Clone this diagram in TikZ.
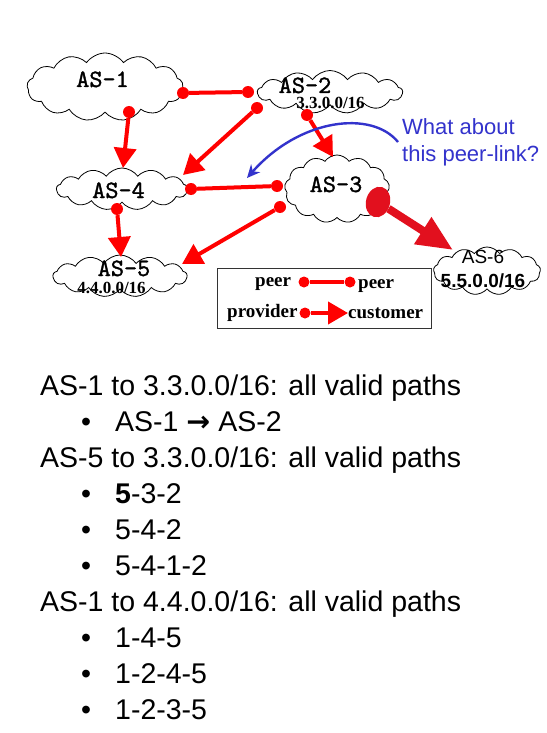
\documentclass[tikz,border=0pt]{standalone}
\usepackage{fontspec}
\setmainfont{Liberation Sans}
\newfontfamily\timesfont{Liberation Serif}
\newfontfamily\symfont{DejaVu Sans}
\newfontfamily\asfont{lmmono10-regular.otf}[FakeBold=1.3]
\usetikzlibrary{arrows.meta,shapes.symbols,shapes.geometric}
\definecolor{linkred}{RGB}{255,0,0}
\definecolor{darkred}{RGB}{226,16,30}
\definecolor{askblue}{RGB}{51,51,204}

\begin{document}
\begin{tikzpicture}
[x=1pt,y=-1pt,
cl/.style={cloud,draw,fill=white,cloud puffs=13,cloud puff arc=110,cloud ignores aspect,inner sep=0pt,line width=0.8pt},
d/.style={circle,fill=linkred,inner sep=0pt,minimum size=12pt},
pp/.style={linkred,line width=4pt},
pc/.style={linkred,line width=4pt,-{Triangle[length=20pt,width=22pt]}},
asl/.style={font=\asfont\bfseries\fontsize{25}{25}\selectfont,anchor=base,inner sep=0pt},
pfx/.style={font=\timesfont\bfseries\fontsize{17}{17}\selectfont,anchor=base,inner sep=0pt},
lg/.style={font=\timesfont\bfseries\fontsize{19}{19}\selectfont,anchor=base west,inner sep=0pt},
hd/.style={font=\fontsize{28.5}{30}\selectfont,anchor=base west,inner sep=0pt},
bl/.style={font=\fontsize{28.5}{30}\selectfont,anchor=base west,inner sep=0pt}]
\fill[white] (0,0) rectangle (546,733);
\useasboundingbox (0,0) rectangle (546,733);
% the clouds
\node[cl,minimum width=156pt,minimum height=68pt] (as1) at (105,87) {};
\node[cl,minimum width=145pt,minimum height=43pt] (as2) at (330,92) {};
\node[cl,minimum width=105pt,minimum height=68pt] (as3) at (337,189) {};
\node[cl,minimum width=131pt,minimum height=42pt] (as4) at (122,189) {};
\node[cl,minimum width=134pt,minimum height=42pt] (as5) at (120,276) {};
\node[cl,minimum width=107pt,minimum height=48pt] (as6) at (487,271) {};
\node[asl] (as1l) at (102.5,87) {AS-1};
\node[asl] (as2l) at (305,93) {AS-2};
\node[pfx] (as2p) at (330.5,109) {3.3.0.0/16};
\node[asl] (as3l) at (336,192) {AS-3};
\node[asl] (as4l) at (118.5,198) {AS-4};
\node[asl] (as5l) at (124,276) {AS-5};
\node[pfx] (as5p) at (111.5,293.5) {4.4.0.0/16};
\node[anchor=base,inner sep=0pt,font=\fontsize{19}{19}\selectfont] (as6l) at (483,263) {AS-6};
\node[anchor=base,inner sep=0pt,font=\bfseries\fontsize{19}{19}\selectfont] (as6p) at (483,287) {5.5.0.0/16};
% peer links
\node[d] (p12a) at (183,93) {};
\node[d] (p12b) at (248,92) {};
\draw[pp] (p12a) -- (p12b);
\node[d] (p43a) at (191,189) {};
\node[d] (p43b) at (277,186) {};
\draw[pp] (p43a) -- (p43b);
% provider -> customer
\node[d] (d14) at (129,112) {};
\coordinate (t14) at (123,168);
\draw[pc] (d14) -- (t14);
\node[d] (d24) at (257,108) {};
\coordinate (t24) at (183,175);
\draw[pc] (d24) -- (t24);
\node[d] (d23) at (307,115) {};
\coordinate (t23) at (333,157);
\draw[pc] (d23) -- (t23);
\node[d] (d45) at (117,209) {};
\coordinate (t45) at (121,257);
\draw[pc] (d45) -- (t45);
\node[d] (d35) at (280,207) {};
\coordinate (t35) at (182,264);
\draw[pc] (d35) -- (t35);
\node[ellipse,fill=darkred,inner sep=0pt,minimum width=24pt,minimum height=31pt,rotate=-15] (e36) at (378,202) {};
\coordinate (t36) at (453,250);
\draw[darkred,line width=8pt,-{Triangle[length=36pt,width=30pt]}] (e36) -- (t36);
% the question
\node[anchor=base west,inner sep=0pt,text=askblue,font=\fontsize{22}{22}\selectfont] (q1) at (402,135) {What about};
\node[anchor=base west,inner sep=0pt,text=askblue,font=\fontsize{22}{22}\selectfont] (q2) at (402,161) {this peer-link?};
\coordinate (qa) at (398,142);
\coordinate (qb) at (247,178);
\draw[askblue,line width=2.4pt,-{Stealth[length=13pt,width=12pt]}] (qa) .. controls (372,110) and (300,118) .. (qb);
% legend
\node[draw=black!80,line width=0.8pt,anchor=north west,inner sep=0pt,minimum width=214pt,minimum height=60pt] (leg) at (217,268) {};
\node[lg] (lg1) at (255,286) {peer};
\node[d,minimum size=11pt] (ld1) at (304,282) {};
\node[d,minimum size=11pt] (ld2) at (350,282) {};
\draw[pp] (ld1) -- (ld2);
\node[lg] (lg2) at (358,288) {peer};
\node[lg] (lg3) at (227,317) {provider};
\node[d,minimum size=11pt] (ld3) at (305,313) {};
\coordinate (lt3) at (348,313);
\draw[pc] (ld3) -- (lt3);
\node[lg] (lg4) at (348,318) {customer};
% the paths
\node[hd] (h1) at (40,395) {AS-1 to 3.3.0.0/16: all valid paths};
\node[bl] (b1) at (81,431) {•};
\node[bl] (i1) at (115,431) {AS-1 {\symfont\bfseries →} AS-2};
\node[hd] (h2) at (40,467) {AS-5 to 3.3.0.0/16: all valid paths};
\node[bl] (b2) at (81,503) {•};
\node[bl] (i2) at (115,503) {\textbf{5}-3-2};
\node[bl] (b3) at (81,539) {•};
\node[bl] (i3) at (115,539) {5-4-2};
\node[bl] (b4) at (81,575) {•};
\node[bl] (i4) at (115,575) {5-4-1-2};
\node[hd] (h3) at (40,611) {AS-1 to 4.4.0.0/16: all valid paths};
\node[bl] (b5) at (81,647) {•};
\node[bl] (i5) at (115,647) {1-4-5};
\node[bl] (b6) at (81,683) {•};
\node[bl] (i6) at (115,683) {1-2-4-5};
\node[bl] (b7) at (81,719) {•};
\node[bl] (i7) at (115,719) {1-2-3-5};
\end{tikzpicture}
\end{document}
